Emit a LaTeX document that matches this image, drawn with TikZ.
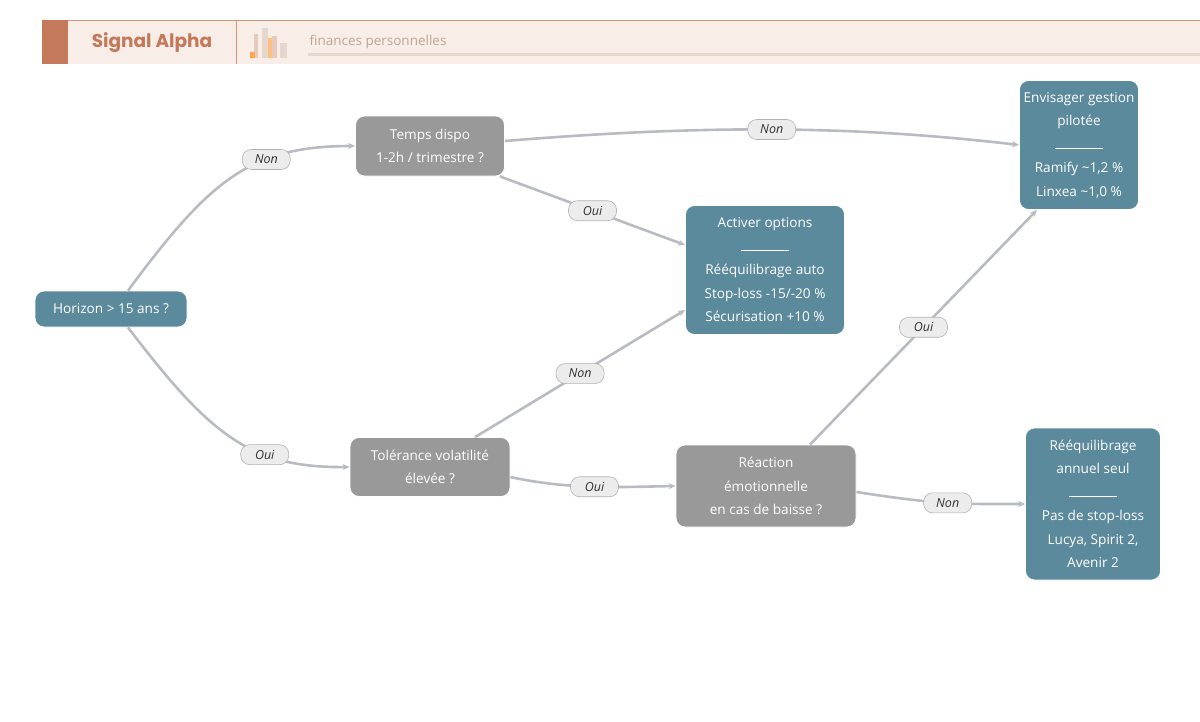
\documentclass[tikz,border=0pt]{standalone}
\usepackage{fontspec}
\setmainfont{Open Sans}
\newfontfamily\popp{Poppins}
\usetikzlibrary{calc,arrows.meta}
\definecolor{teal1}{HTML}{5B8A9C}
\definecolor{gray1}{HTML}{999999}
\definecolor{edge1}{HTML}{B8BCC2}
\definecolor{hdr}{HTML}{F8EDE7}
\definecolor{rust}{HTML}{C47A5A}
\definecolor{line1}{HTML}{E6D7CC}
\tikzset{
 box/.style={rounded corners=9pt,draw=white,line width=0.8pt,text=white,align=center,inner sep=0pt,font=\fontsize{13.6}{23.5}\selectfont},
 tbox/.style={box,fill=teal1},
 gbox/.style={box,fill=gray1},
 conn/.style={draw=edge1,line width=2.6pt,-{Stealth[length=7pt,width=6pt]}},
 lab/.style={fill=gray!15,draw=gray!60,line width=0.6pt,rounded corners=9pt,font=\itshape\fontsize{12.5}{14}\selectfont,text=black!80,minimum width=48pt,minimum height=20pt,inner sep=1pt}
}
\newcommand{\sep}{\tikz\draw[white,line width=1pt](0,0)--(48pt,0);}
\begin{document}
\begin{tikzpicture}[x=1pt,y=-1pt]
\useasboundingbox (0,0) rectangle (1200,721);
% header
\fill[hdr] (42,20) rectangle (1200,64);
\draw[rust!80,line width=0.8pt] (42,20)--(1200,20);
\fill[rust] (42,20) rectangle (68,64);
\draw[rust!80,line width=0.8pt] (236,20)--(236,64);
\node[font=\popp\bfseries\fontsize{18.5}{20}\selectfont,text=rust] (title) at (152,43) {Signal Alpha};
\fill[rust!40] (254,34) rectangle (258,58);
\fill[line1] (262,28) rectangle (268,58);
\fill[orange!50] (268,38) rectangle (272,58);
\fill[rust!40] (272,36) rectangle (277,58);
\fill[line1] (280,43) rectangle (287,58);
\fill[orange!70] (250,52) rectangle (255,58);
\node[font=\fontsize{13.5}{15}\selectfont,text=brown!50!gray!70,anchor=west] (sub) at (306,42) {finances personnelles};
\fill[line1] (308,52.5) rectangle (1200,56);
% nodes
\node[tbox,minimum width=152pt,minimum height=36pt] (h) at (111,309) {Horizon > 15 ans ?};
\node[gbox,minimum width=149pt,minimum height=60pt] (t) at (430,146) {Temps dispo\\1-2h / trimestre ?};
\node[gbox,minimum width=160pt,minimum height=59pt] (v) at (430,467) {Tolérance volatilité\\élevée ?};
\node[tbox,minimum width=159pt,minimum height=129pt] (a) at (765,270) {Activer options\\\sep\\Rééquilibrage auto\\Stop-loss -15/-20 \%\\Sécurisation +10 \%};
\node[tbox,minimum width=119pt,minimum height=129pt] (e) at (1079,145) {Envisager gestion\\pilotée\\\sep\\Ramify \textasciitilde1,2 \%\\Linxea \textasciitilde1,0 \%};
\node[gbox,minimum width=180pt,minimum height=82pt] (r) at (766,486) {Réaction\\émotionnelle\\en cas de baisse ?};
\node[tbox,minimum width=135pt,minimum height=152pt] (q) at (1093,504) {Rééquilibrage\\annuel seul\\\sep\\Pas de stop-loss\\Lucya, Spirit 2,\\Avenir 2};
% edges
\draw[conn] ($(h.north)+(17,0)$) .. controls (210,180) and (250,146) .. (t.west) node[pos=0.66,lab] (l1) {Non};
\draw[conn] ($(h.south)+(17,0)$) .. controls (210,435) and (250,468) .. (v.west) node[pos=0.66,lab] (l2) {Oui};
\draw[conn] ($(t.east)+(0,-5)$) .. controls (700,125) and (850,125) .. (e.west) node[pos=0.5,lab] (l3) {Non};
\draw[conn] ($(t.south east)+(-5,0)$) -- ($(a.west)+(0,-25)$) node[pos=0.5,lab] (l4) {Oui};
\draw[conn] ($(v.north)+(45,0)$) -- ($(a.west)+(0,40)$) node[pos=0.5,lab] (l5) {Non};
\draw[conn] ($(v.east)+(0,10)$) .. controls (570,490) and (620,487) .. (r.west) node[pos=0.5,lab] (l6) {Oui};
\draw[conn] ($(r.north)+(44,0)$) -- ($(e.south)+(-42,0)$) node[pos=0.5,lab] (l7) {Oui};
\draw[conn] ($(r.east)+(0,6)$) .. controls (940,505) and (960,504) .. (q.west) node[pos=0.5,lab] (l8) {Non};
\end{tikzpicture}
\end{document}
